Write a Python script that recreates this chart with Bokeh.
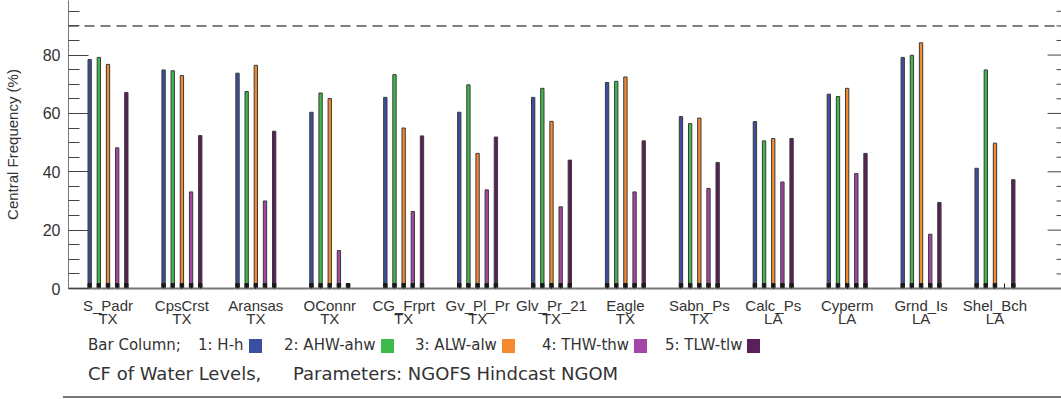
from bokeh.plotting import figure
from bokeh.models import ColumnDataSource, FixedTicker, Span, Div, Range1d
from bokeh.layouts import column
from bokeh.embed import file_html
from bokeh.resources import INLINE

stations = ["S_Padr", "CpsCrst", "Aransas", "OConnr", "CG_Frprt", "Gv_Pl_Pr", "Glv_Pr_21",
            "Eagle", "Sabn_Ps", "Calc_Ps", "Cyperm", "Grnd_Is", "Shel_Bch"]
states = ["TX", "TX", "TX", "TX", "TX", "TX", "TX", "TX", "TX", "LA", "LA", "LA", "LA"]
series_names = ["1: H-h", "2: AHW-ahw", "3: ALW-alw", "4: THW-thw", "5: TLW-tlw"]
colors = ["#3b4fa2", "#3dba4b", "#f5892f", "#a546a6", "#5b1f59"]

h_h = [78.5, 74.9, 73.8, 60.4, 65.5, 60.4, 65.5, 70.6, 58.9, 57.2, 66.6, 79.2, 41.2]
ahw_ahw = [79.2, 74.6, 67.5, 67.0, 73.3, 69.8, 68.6, 71.0, 56.5, 50.6, 65.8, 79.9, 74.9]
alw_alw = [76.8, 73.0, 76.5, 65.1, 55.0, 46.3, 57.3, 72.5, 58.4, 51.4, 68.6, 84.2, 49.8]
thw_thw = [48.2, 33.1, 30.0, 13.0, 26.4, 33.8, 28.0, 33.1, 34.3, 36.5, 39.4, 18.6, 0.0]
tlw_tlw = [67.2, 52.4, 53.9, 1.7, 52.3, 51.9, 44.0, 50.6, 43.2, 51.4, 46.3, 29.5, 37.3]
series = [h_h, ahw_ahw, alw_alw, thw_thw, tlw_tlw]

y_ticks = [0, 20, 40, 60, 80, 100]
y_minor = list(range(0, 101, 5))

FONT = "Liberation Sans"
LFONT = "DejaVu Sans"
TXT = "#333333"
step = 0.124
bw = 0.045
X0, X1 = 0.4655, 13.90
Y0, Y1 = 0, 98.7

p = figure(width=1061, height=330, x_range=Range1d(X0, X1), y_range=Range1d(Y0, Y1),
           output_backend="svg", toolbar_location=None,
           min_border_left=63, min_border_right=0, min_border_top=0, min_border_bottom=40,
           outline_line_color=None, background_fill_color="white", border_fill_color="white")
p.grid.visible = False

centers = list(range(1, len(stations) + 1))
bar_pos = []
for k in range(5):
    bar_pos += [c + (k - 2) * step for c in centers]

# bars
for k, vals in enumerate(series):
    xs = [c + (k - 2) * step for c in centers]
    src = ColumnDataSource(dict(x=xs, top=vals))
    p.vbar(x="x", top="top", bottom=0, width=bw, source=src, fill_color=colors[k],
           line_color="#3a3a3a", line_width=1)
    bx = [x for x, v in zip(xs, vals) if v > 0]
    bt = [min(v, 1.7) for v in vals if v > 0]
    p.vbar(x=bx, top=bt, bottom=0, width=bw, fill_color="#1a1a1a", line_color="#1a1a1a", line_width=1)

p.add_layout(Span(location=90, dimension="width", line_color="#555555", line_width=1.5,
                  line_dash="10 6"))

# inward ticks on the right edge (no labels)
px_per_x = (1061 - 63) / (X1 - X0)
maj_len = 14 / px_per_x
min_len = 5 / px_per_x
rt_y = [t for t in y_minor if t <= Y1]
rt_x0 = [X1 - (maj_len if t in y_ticks else min_len) for t in rt_y]
p.segment(x0=rt_x0, y0=rt_y, x1=[X1] * len(rt_y), y1=rt_y, line_color="#444444", line_width=1)

xa = p.xaxis[0]
xa.ticker = FixedTicker(ticks=centers, minor_ticks=bar_pos)
xa.major_label_overrides = {c: f"{s}\n{st}" for c, s, st in zip(centers, stations, states)}
xa.major_tick_in = 5
xa.major_tick_out = 0
xa.minor_tick_in = 5
xa.minor_tick_out = 0
xa.major_tick_line_color = "#1a1a1a"
xa.minor_tick_line_color = "#1a1a1a"
xa.axis_line_color = "#777777"
xa.axis_line_width = 2
xa.major_label_standoff = 8
xa.major_label_text_font = FONT
xa.major_label_text_font_size = "15px"
xa.major_label_text_color = TXT
xa.major_label_text_line_height = 0.8

ya = p.yaxis[0]
ya.ticker = FixedTicker(ticks=y_ticks, minor_ticks=y_minor)
ya.major_tick_in = 20
ya.major_tick_out = 0
ya.minor_tick_in = 11
ya.minor_tick_out = 0
ya.major_tick_line_color = "#444444"
ya.minor_tick_line_color = "#444444"
ya.axis_line_color = "#777777"
ya.major_label_standoff = 8
ya.major_label_text_font = FONT
ya.major_label_text_font_size = "16px"
ya.major_label_text_color = TXT
ya.axis_label = "Central Frequency (%)"
ya.axis_label_text_font = FONT
ya.axis_label_text_font_size = "15px"
ya.axis_label_text_font_style = "normal"
ya.axis_label_text_color = TXT
ya.axis_label_standoff = 19

# legend / caption below the chart
def sp(x, y, inner, size):
    return (f'<span style="position:absolute;left:{x}px;top:{y}px;font-size:{size}px;'
            f'line-height:1;white-space:pre;color:{TXT};font-family:\'{LFONT}\';'
            f'display:flex;align-items:center;">{inner}</span>')

def sq(color):
    return (f'<span style="display:inline-block;margin-left:5px;width:13px;height:14px;'
            f'background:{color};"></span>')

leg_text_x = [198, 284, 415, 542, 665]
html = '<div style="position:relative;width:1061px;height:68px;overflow:hidden;">'
html += sp(88, 8, "Bar Column;", 15)
for name, tx, c in zip(series_names, leg_text_x, colors):
    html += sp(tx, 8, name + sq(c), 15)
html += sp(88, 35, "CF of Water Levels,", 18)
html += sp(293, 35, "Parameters: NGOFS Hindcast NGOM", 18)
html += ('<div style="position:absolute;left:63px;top:66px;width:998px;height:2px;'
         'background:#777777;"></div>')
html += '</div>'

div = Div(text=html, width=1061, height=68, margin=0)

layout = column(p, div, spacing=0)
open("out.html", "w").write(file_html(layout, INLINE))
